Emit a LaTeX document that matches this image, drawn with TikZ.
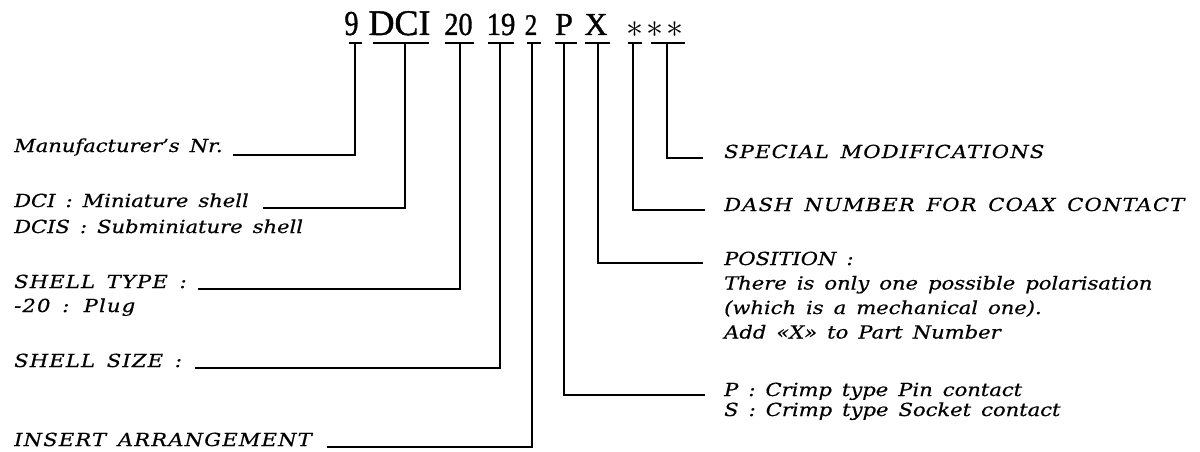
\documentclass[tikz,border=0pt]{standalone}
\usepackage{fontspec}
\setmainfont{DejaVu Serif}
\newfontfamily\lblfont{DejaVu Serif}[FakeStretch=1.17,WordSpace=1.5,FakeBold=0.5]
\newfontfamily\capfont{DejaVu Serif}[FakeStretch=1.17,WordSpace=1.5,LetterSpace=6.5,FakeBold=0.5]
\newfontfamily\codefont{Liberation Serif}[FakeBold=1.2]
\tikzset{
  lbl/.style={anchor=base west, inner sep=0pt, align=left,
    font=\lblfont\itshape\fontsize{18}{#1}\selectfont},
  lbl/.default=24.5,
  caps/.style={anchor=base west, inner sep=0pt, align=left,
    font=\capfont\itshape\fontsize{18}{#1}\selectfont},
  caps/.default=24.5,
  code/.style={anchor=base, inner sep=0pt, font=\codefont\fontsize{#1}{#1}\selectfont},
  link/.style={line width=1.6pt, line cap=butt},
  bar/.style={line width=1.6pt}
}
\newcommand{\bigast}{\scalebox{3.4}{$\ast$}}
\begin{document}
\begin{tikzpicture}[x=1pt,y=-1pt]
\useasboundingbox[fill=white] (0,0) rectangle (1200,452);

% part-number code
\node[code=35] (c9)   at (351.5,35) {\scalebox{0.8}[1]{9}};
\node[code=36] (cdci) at (399.5,35) {DCI};
\node[code=32] (c20)  at (458.5,35) {\scalebox{0.88}[1]{20}};
\node[code=32] (c19)  at (501,35)   {\scalebox{0.9}[1]{19}};
\node[code=30] (c2)   at (531,35)   {\scalebox{0.83}[1]{2}};
\node[code=32] (cp)   at (564,35)   {P};
\node[code=32] (cx)   at (596,35)   {X};
\node[code=10] (cs1)  at (635,37.5) {\bigast};
\node[code=10] (cs2)  at (665,37.5) {\bigast\hspace{3pt}\bigast};

% bar centres (tops of the leader lines)
\coordinate (b9)   at (355,43);
\coordinate (bdci) at (405,43);
\coordinate (b20)  at (460,43);
\coordinate (b19)  at (500,43);
\coordinate (b2)   at (532,43);
\coordinate (bp)   at (564,43);
\coordinate (bx)   at (598,43);
\coordinate (bs1)  at (633,43);
\coordinate (bs2)  at (667,43);

% bars under the code
\draw[bar] (b9)   ++(-6,0)  -- ++(13,0);
\draw[bar] (bdci) ++(-32,0) -- ++(56,0);
\draw[bar] (b20)  ++(-15,0) -- ++(29,0);
\draw[bar] (b19)  ++(-12,0) -- ++(26,0);
\draw[bar] (b2)   ++(-5,0)  -- ++(14,0);
\draw[bar] (bp)   ++(-9,0)  -- ++(22,0);
\draw[bar] (bx)   ++(-13,0) -- ++(25,0);
\draw[bar] (bs1)  ++(-5,0)  -- ++(14,0);
\draw[bar] (bs2)  ++(-16,0) -- ++(34,0);

% labels, left (multi-line nodes are placed by the baseline of their last line)
\node[lbl] (l9)   at (14,152) {Manufacturer’s Nr.};
\node[lbl=26] (ldci) at (14,233) {DCI : Miniature shell\\DCIS : Subminiature shell};
\node[caps=24] (l20)  at (14,312) {SHELL TYPE :\\-20 : Plug};
\node[caps] (l19)  at (14,367) {SHELL SIZE :};
\node[caps] (l2)   at (14,446) {INSERT ARRANGEMENT};

% labels, right
\node[caps] (ls2)  at (724,158) {SPECIAL MODIFICATIONS};
\node[caps] (ls1)  at (724,211) {DASH NUMBER FOR COAX CONTACT};
\node[lbl] (lx)   at (724,338.5) {POSITION :\\There is only one possible polarisation\\(which is a mechanical one).\\Add «X» to Part Number};
\node[lbl=20] (lp) at (724,416) {P : Crimp type Pin contact\\S : Crimp type Socket contact};

% free ends of the leader lines
\coordinate (e9)   at (233,155);
\coordinate (edci) at (263,208);
\coordinate (e20)  at (198,289);
\coordinate (e19)  at (195,368);
\coordinate (e2)   at (327,447);
\coordinate (ep)   at (705,395);
\coordinate (ex)   at (703,263);
\coordinate (es1)  at (705,210);
\coordinate (es2)  at (703,158);

% leader lines
\draw[link] (b9)   |- (e9);
\draw[link] (bdci) |- (edci);
\draw[link] (b20)  |- (e20);
\draw[link] (b19)  |- (e19);
\draw[link] (b2)   |- (e2);
\draw[link] (bp)   |- (ep);
\draw[link] (bx)   |- (ex);
\draw[link] (bs1)  |- (es1);
\draw[link] (bs2)  |- (es2);
\end{tikzpicture}
\end{document}
